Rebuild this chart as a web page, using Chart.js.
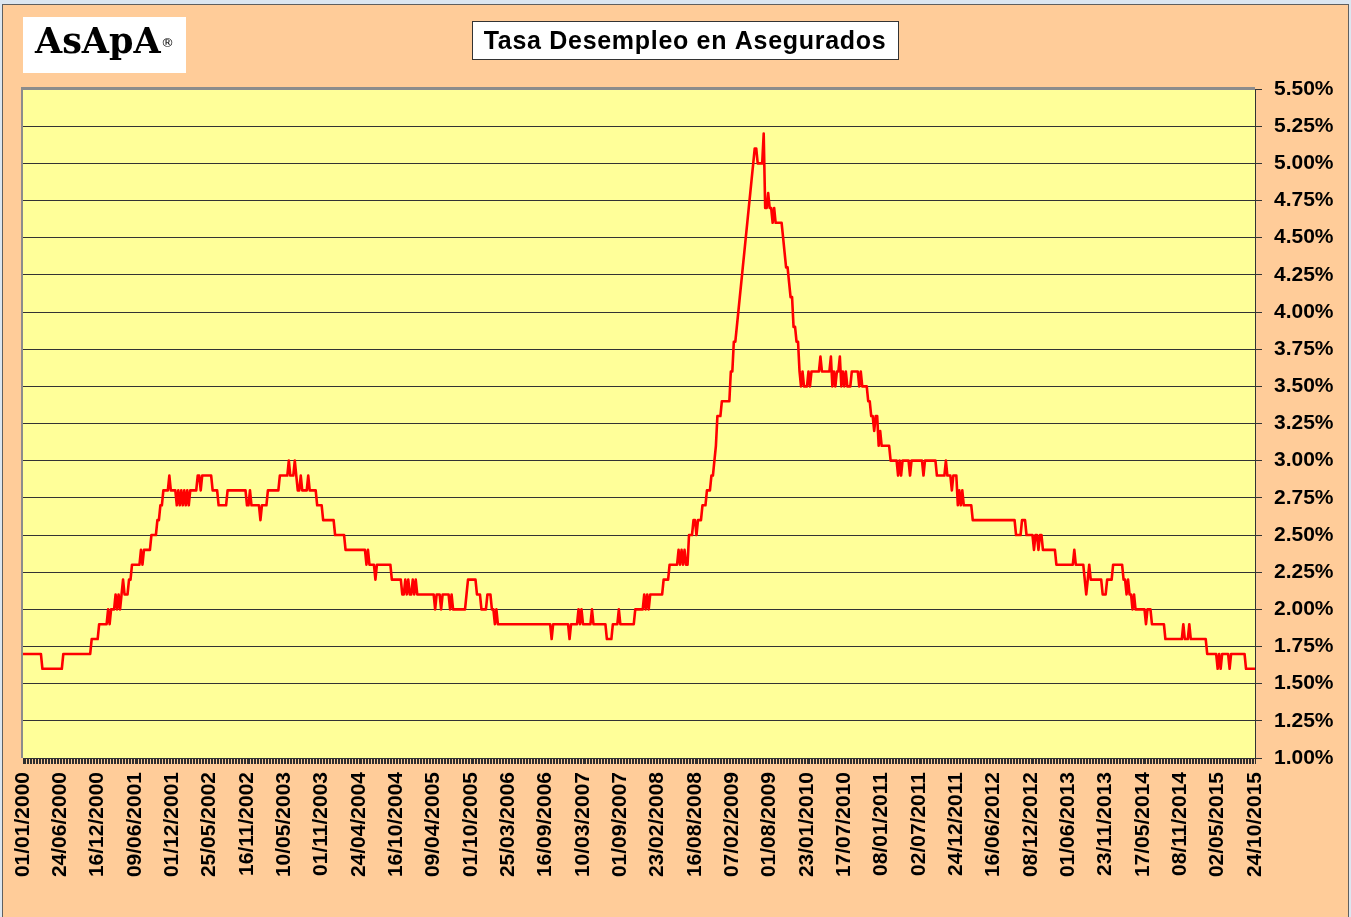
<!DOCTYPE html>
<html>
<head>
<meta charset="utf-8">
<script src="https://cdn.jsdelivr.net/npm/chart.js@4/dist/chart.umd.min.js"></script>
<style>
html,body{margin:0;padding:0;background:#DCE6F0;overflow:hidden}
canvas{display:block}
</style>
</head>
<body>
<canvas id="chart" width="1351" height="917"></canvas>
<script>
// ---------- DATA ----------
const tituloGrafico = 'Tasa Desempleo en Asegurados';
const logoTexto = 'AsApA';

// Date labels shown on the x axis (one every 25 weeks)
const tickLabels = [
  '01/01/2000','24/06/2000','16/12/2000','09/06/2001','01/12/2001','25/05/2002',
  '16/11/2002','10/05/2003','01/11/2003','24/04/2004','16/10/2004','09/04/2005',
  '01/10/2005','25/03/2006','16/09/2006','10/03/2007','01/09/2007','23/02/2008',
  '16/08/2008','07/02/2009','01/08/2009','23/01/2010','17/07/2010','08/01/2011',
  '02/07/2011','24/12/2011','16/06/2012','08/12/2012','01/06/2013','23/11/2013',
  '17/05/2014','08/11/2014','02/05/2015','24/10/2015'
];

// Weekly unemployment rate (%), 01/01/2000 .. 24/10/2015
const tasaSemanal = [
  1.7,1.7,1.7,1.7,1.7, 1.7,1.7,1.7,1.7,1.7, 1.7,1.7,1.7,
  1.6,1.6,1.6,1.6,1.6, 1.6,1.6,1.6,1.6,1.6, 1.6,1.6,1.6,1.6,
  1.7,1.7,1.7,1.7,1.7, 1.7,1.7,1.7,1.7,1.7, 1.7,1.7,1.7,1.7,1.7, 1.7,1.7,1.7,1.7,
  1.8,1.8,1.8,1.8,1.8, 1.9,1.9,1.9,1.9,1.9, 1.9,
  2.0,1.9,2.0,2.0,2.0, 2.1,2.0,2.1,2.0,2.1, 2.2,2.1,2.1,2.1,2.2, 2.2,
  2.3,2.3,2.3,2.3,2.3, 2.3,2.4,2.3,2.4,2.4, 2.4,2.4,2.4,2.5,2.5, 2.5,2.5,
  2.6,2.6,2.7,2.7,2.8, 2.8,2.8,2.8,2.9,2.8, 2.8,2.8,2.8,
  2.7,2.8,2.7,2.8,2.7, 2.8,2.7,2.8,2.7,2.8, 2.8,2.8,2.8,2.8,2.9, 2.9,2.8,
  2.9,2.9,2.9,2.9,2.9, 2.9,2.9,2.8,2.8,2.8, 2.8,2.7,2.7,2.7,2.7, 2.7,2.7,
  2.8,2.8,2.8,2.8,2.8, 2.8,2.8,2.8,2.8,2.8, 2.8,2.8,2.8,
  2.7,2.7,2.8,2.7,2.7, 2.7,2.7,2.7,2.7,2.6, 2.7,2.7,2.7,2.7,
  2.8,2.8,2.8,2.8,2.8, 2.8,2.8,2.8,2.9,2.9, 2.9,2.9,2.9,2.9,
  3.0,2.9,2.9,2.9,3.0, 2.9,2.8,2.8,2.9,2.8, 2.8,2.8,2.8,2.9,2.8, 2.8,2.8,2.8,2.8,
  2.7,2.7,2.7,2.7,2.6, 2.6,2.6,2.6,2.6,2.6, 2.6,2.6,2.5,2.5,2.5, 2.5,2.5,2.5,2.5,
  2.4,2.4,2.4,2.4,2.4, 2.4,2.4,2.4,2.4,2.4, 2.4,2.4,2.4,2.4,
  2.3,2.4,2.3,2.3,2.3, 2.3,2.2,2.3,2.3,2.3, 2.3,2.3,2.3,2.3,2.3, 2.3,2.3,
  2.2,2.2,2.2,2.2,2.2, 2.2,2.2,2.1,2.1,2.2, 2.1,2.2,2.1,2.1,2.2, 2.1,2.2,
  2.1,2.1,2.1,2.1,2.1, 2.1,2.1,2.1,2.1,2.1, 2.1,2.1,
  2.0,2.1,2.1,2.1,2.0, 2.1,2.1,2.1,2.1,2.1, 2.0,2.1,
  2.0,2.0,2.0,2.0,2.0, 2.0,2.0,2.0,2.0,
  2.1,2.2,2.2,2.2,2.2, 2.2,2.2,2.1,2.1,2.1, 2.0,2.0,2.0,2.0,2.1, 2.1,2.1,2.0,2.0,1.9, 2.0,
  1.9,1.9,1.9,1.9,1.9, 1.9,1.9,1.9,1.9,1.9, 1.9,1.9,1.9,1.9,1.9, 1.9,1.9,1.9,1.9,1.9,
  1.9,1.9,1.9,1.9,1.9, 1.9,1.9,1.9,1.9,1.9, 1.9,1.9,1.9,1.9,1.9, 1.9,
  1.8,1.9,1.9,1.9,1.9, 1.9,1.9,1.9,1.9,1.9, 1.9,1.9,1.8,1.9,1.9, 1.9,1.9,1.9,
  2.0,1.9,2.0,1.9,1.9, 1.9,1.9,1.9,1.9,2.0, 1.9,1.9,1.9,1.9,1.9, 1.9,1.9,1.9,1.9,1.8, 1.8,1.8,1.8,1.9,1.9, 1.9,1.9,
  2.0,1.9,1.9,1.9,1.9, 1.9,1.9,1.9,1.9,1.9, 1.9,2.0,2.0,2.0,2.0, 2.0,2.0,2.1,2.0,2.1, 2.0,
  2.1,2.1,2.1,2.1,2.1, 2.1,2.1,2.1,2.1,2.2, 2.2,2.2,2.2,2.3,2.3, 2.3,2.3,2.3,2.3,2.4, 2.3,2.4,2.3,2.4,2.3, 2.3,
  2.5,2.5,2.5,2.6,2.6, 2.5,2.6,2.6,2.6,2.7, 2.7,2.7,2.8,2.8,2.8, 2.9,2.9,3.0,3.1,3.3, 3.3,3.3,3.4,3.4,3.4, 3.4,3.4,3.4,3.6,3.6, 3.8,3.8,3.9,4.0,
  4.1,4.2,4.3,4.4,4.5, 4.6,4.7,4.8,4.9,5.0, 5.1,5.1,5.0,5.0,5.0, 5.0,5.2,
  4.7,4.7,4.8,4.7,4.7, 4.6,4.7,4.6,4.6,4.6, 4.6,4.6,4.5,4.4,4.3, 4.3,4.2,4.1,4.1,3.9, 3.9,3.8,3.8,3.6,
  3.5,3.6,3.5,3.5,3.5, 3.6,3.5,3.6,3.6,3.6, 3.6,3.6,3.6,
  3.7,3.6,3.6,3.6,3.6, 3.6,3.6,3.7,3.5,3.6, 3.5,3.6,3.6,3.7,3.5, 3.6,3.5,3.6,3.5,3.5, 3.5,3.6,3.6,3.6,3.6, 3.6,3.5,3.6,3.5,3.5, 3.5,3.5,
  3.4,3.4,3.3,3.3,3.2, 3.3,3.3,3.1,3.2,3.1, 3.1,3.1,3.1,3.1,3.1,
  3.0,3.0,3.0,3.0,3.0, 2.9,3.0,2.9,3.0,3.0, 3.0,3.0,3.0,2.9,3.0, 3.0,3.0,3.0,3.0,3.0, 3.0,3.0,2.9,3.0,3.0, 3.0,3.0,3.0,3.0,3.0, 3.0,
  2.9,2.9,2.9,2.9,2.9, 2.9,3.0,2.9,2.9,2.9, 2.8,2.9,2.9,2.9,2.7, 2.8,2.7,2.8,2.7,2.7, 2.7,2.7,2.7,2.7,
  2.6,2.6,2.6,2.6,2.6, 2.6,2.6,2.6,2.6,2.6, 2.6,2.6,2.6,2.6,2.6, 2.6,2.6,2.6,2.6,2.6, 2.6,2.6,2.6,2.6,2.6, 2.6,2.6,2.6,2.6,
  2.5,2.5,2.5,2.5,2.6, 2.6,2.6,2.5,2.5,2.5, 2.5,2.5,2.4,2.5,2.5, 2.4,2.5,2.5,2.4,2.4, 2.4,2.4,2.4,2.4,2.4, 2.4,2.4,
  2.3,2.3,2.3,2.3,2.3, 2.3,2.3,2.3,2.3,2.3, 2.3,2.3,2.4,2.3,2.3, 2.3,2.3,2.3,2.3,
  2.2,2.1,2.2,2.3,2.2, 2.2,2.2,2.2,2.2,2.2, 2.2,2.2,2.1,2.1,2.1, 2.2,2.2,2.2,2.2,2.3, 2.3,2.3,2.3,2.3,2.3, 2.3,2.2,2.2,2.1,2.2, 2.1,2.1,2.0,2.1,2.0, 2.0,2.0,2.0,2.0,2.0, 2.0,
  1.9,2.0,2.0,2.0,1.9, 1.9,1.9,1.9,1.9,1.9, 1.9,1.9,1.9,1.8,1.8, 1.8,1.8,1.8,1.8,1.8, 1.8,1.8,1.8,1.8,1.8, 1.9,1.8,1.8,1.8,1.9, 1.8,1.8,1.8,1.8,1.8, 1.8,1.8,1.8,1.8,1.8, 1.8,
  1.7,1.7,1.7,1.7,1.7, 1.7,1.7,1.6,1.7,1.6, 1.7,1.7,1.7,1.7,1.7, 1.6,1.7,1.7,1.7,1.7, 1.7,1.7,1.7,1.7,1.7, 1.7,1.6,1.6,1.6,1.6, 1.6,1.6,1.6
];

// Categories: one per week (index), labelled through tickLabels every 25 weeks
const semanas = tasaSemanal.map((_, i) => i);

// ---------- DRAWING ----------
const FONT = "'Liberation Sans', Arial, Helvetica, sans-serif";
Chart.defaults.font.family = FONT;

const decor = {
  id: 'decor',
  beforeDraw(chart) {
    const ctx = chart.ctx, a = chart.chartArea, W = chart.width, H = chart.height;
    ctx.save();
    ctx.fillStyle = '#DCE6F0';
    ctx.fillRect(0, 0, W, H);
    ctx.fillStyle = '#FFCC99';
    ctx.fillRect(3, 5, W - 6, H - 5);
    ctx.strokeStyle = '#5F5F5F';
    ctx.lineWidth = 1;
    ctx.strokeRect(2.5, 4.5, W - 5, H + 10);
    // plot area
    ctx.fillStyle = '#FFFF99';
    ctx.fillRect(a.left, a.top, a.right - a.left, a.bottom - a.top);
    ctx.strokeStyle = '#8C8C8C';
    ctx.lineWidth = 2;
    ctx.beginPath();
    ctx.moveTo(a.left - 1, a.bottom);
    ctx.lineTo(a.left - 1, a.top - 1);
    ctx.lineTo(a.right, a.top - 1);
    ctx.stroke();
    ctx.restore();
  },
  afterDraw(chart) {
    const ctx = chart.ctx;
    ctx.save();
    // logo
    ctx.fillStyle = '#FFFFFF';
    ctx.fillRect(23, 17, 163, 56);
    ctx.fillStyle = '#000000';
    ctx.textBaseline = 'alphabetic';
    ctx.textAlign = 'left';
    ctx.font = "bold 35px 'DejaVu Serif', 'Liberation Serif', serif";
    ctx.fillText(logoTexto, 35, 53);
    ctx.font = "13px 'DejaVu Sans', sans-serif";
    ctx.textBaseline = 'middle';
    ctx.fillText('\u00AE', 161, 44);
    // title box
    ctx.fillStyle = '#FFFFFF';
    ctx.fillRect(472, 21, 426, 38);
    ctx.strokeStyle = '#333333';
    ctx.lineWidth = 1;
    ctx.strokeRect(472.5, 21.5, 426, 38);
    ctx.fillStyle = '#000000';
    ctx.font = 'bold 25px ' + FONT;
    try { ctx.letterSpacing = '0.7px'; } catch (e) {}
    ctx.textAlign = 'center';
    ctx.textBaseline = 'alphabetic';
    ctx.fillText(tituloGrafico, 685, 49);
    ctx.restore();
  }
};

new Chart(document.getElementById('chart'), {
  type: 'line',
  data: {
    labels: semanas,
    datasets: [{
      data: tasaSemanal,
      borderColor: '#FF0000',
      borderWidth: 2.6,
      borderJoinStyle: 'round',
      pointRadius: 0,
      pointHoverRadius: 0,
      tension: 0,
      fill: false
    }]
  },
  options: {
    responsive: false,
    animation: false,
    devicePixelRatio: 1,
    events: [],
    layout: { padding: { left: 23, top: 89, right: 0, bottom: 0 } },
    plugins: {
      legend: { display: false },
      tooltip: { enabled: false },
      title: { display: false }
    },
    scales: {
      x: {
        type: 'category',
        offset: false,
        grid: {
          display: true,
          drawOnChartArea: false,
          drawTicks: true,
          tickLength: 6,
          color: '#2E2E2E',
          lineWidth: 1
        },
        border: { display: true, color: '#333333', width: 1 },
        ticks: {
          autoSkip: false,
          minRotation: 90,
          maxRotation: 90,
          padding: 8,
          color: '#000000',
          font: { size: 21, weight: 'bold', family: FONT },
          callback: (value, index) => (index % 25 === 0 ? (tickLabels[index / 25] || '') : '')
        },
        afterFit: (scale) => { scale.height = 159; }
      },
      y: {
        position: 'right',
        min: 1,
        max: 5.5,
        grid: {
          color: (c) => (c.tick && c.tick.value === 5.5 ? '#8C8C8C' : '#333333'),
          tickColor: '#333333',
          lineWidth: 1,
          drawTicks: true,
          tickLength: 7
        },
        border: { display: true, color: '#333333', width: 1 },
        ticks: {
          stepSize: 0.25,
          padding: 12,
          color: '#000000',
          font: { size: 21, weight: 'bold', family: FONT },
          callback: (v) => v.toFixed(2) + '%'
        },
        afterFit: (scale) => { scale.width = 96; }
      }
    }
  },
  plugins: [decor]
});
</script>
</body>
</html>
